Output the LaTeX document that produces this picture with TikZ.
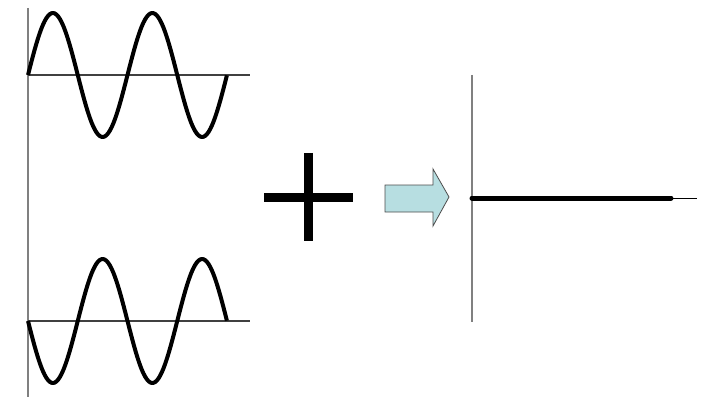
\documentclass[tikz,border=0pt]{standalone}
\usepackage{amsmath}
\usepackage{tikz}
\definecolor{arrowfill}{RGB}{183,222,225}
\begin{document}
\begin{tikzpicture}[x=1pt,y=-1pt,
  axis/.style={gray,line width=1.5pt},
  baseaxis/.style={black!75,line width=1.2pt},
  wave/.style={line width=4pt,line join=round}]
\useasboundingbox (0,0) rectangle (707,409);
\draw [axis] (28,8)--(28,397);
\draw [baseaxis] (28,75)--(250,75);
\draw [baseaxis] (28,321)--(250,321);
\draw [wave] plot[domain=0:2,samples=120,smooth] ({28+99.5*\x},{75-62*sin(360*\x)});
\draw [wave] plot[domain=0:2,samples=120,smooth] ({28+99.5*\x},{321+62*sin(360*\x)});

\draw [line width=9pt] (264,197)--(353,197);
\draw [line width=9pt] (308.5,153)--(308.5,241);

\filldraw [fill=arrowfill,draw=gray!60!black,line width=0.8pt] (385,185)--(433,185)--(433,169)--(449,197)--(433,226)--(433,212)--(385,212)--cycle;

\draw [axis] (472,75)--(472,322);
\draw [line width=1pt] (472,198)--(697,198);
\draw [line width=5pt,line cap=round] (472,198)--(671,198);
\end{tikzpicture}
\end{document}
